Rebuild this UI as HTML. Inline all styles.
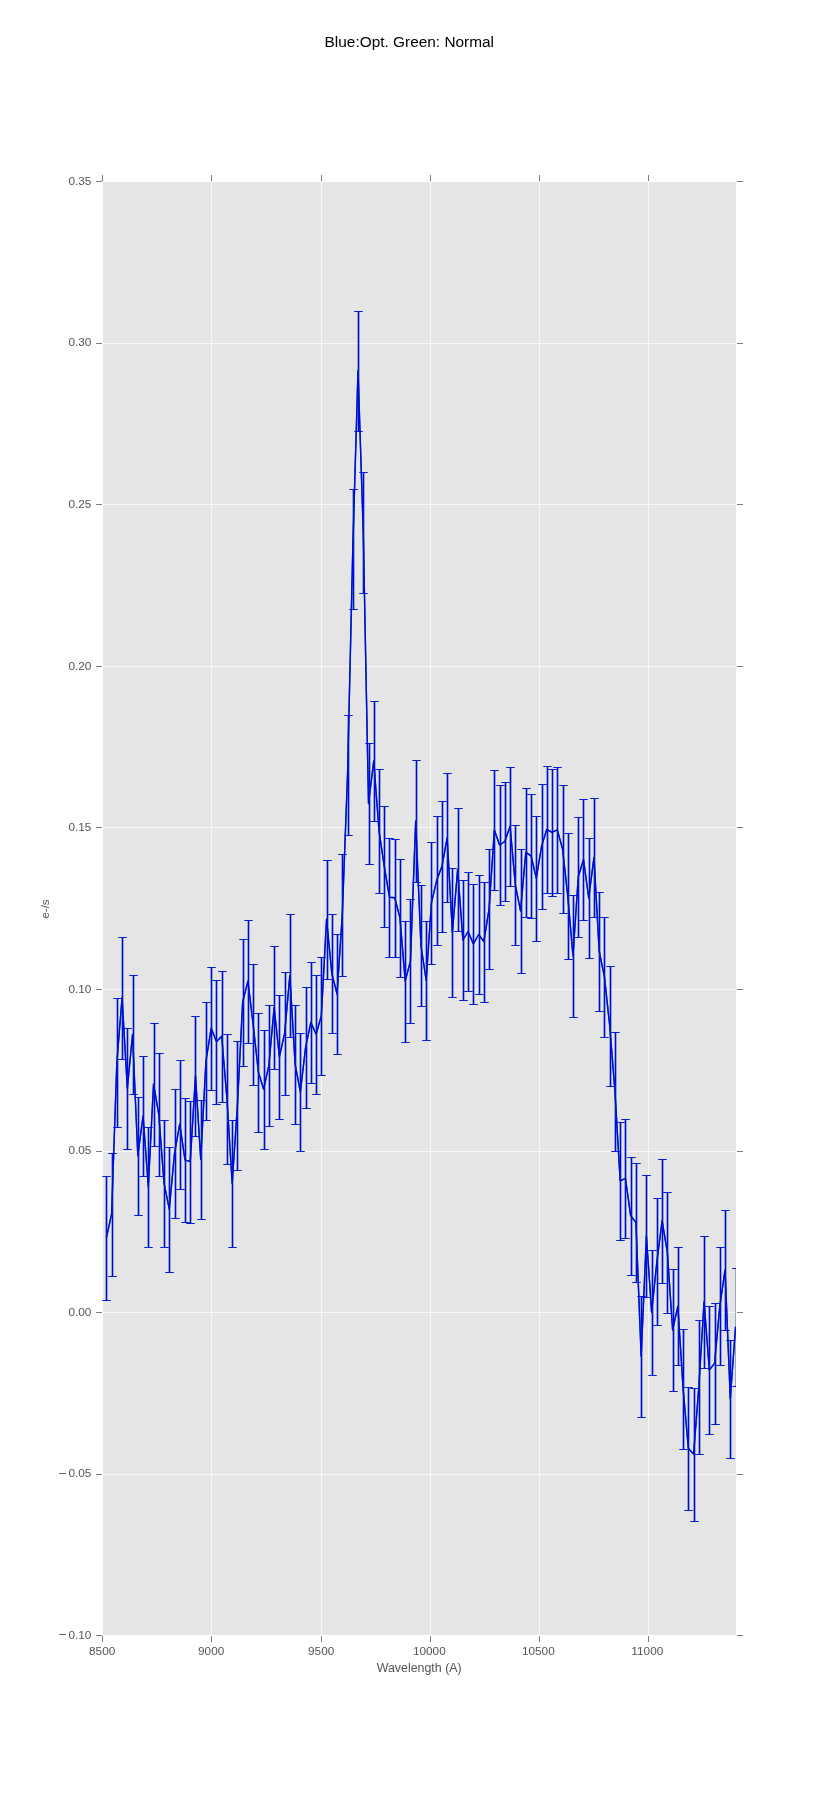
<!DOCTYPE html>
<html><head><meta charset="utf-8"><title>Blue:Opt. Green: Normal</title>
<style>html,body{margin:0;padding:0;background:#fff;}body{width:817px;height:1817px;overflow:hidden;font-family:"Liberation Sans",sans-serif;}svg{display:block;will-change:transform}text{font-family:"Liberation Sans",sans-serif;}</style></head><body>
<svg width="817" height="1817" viewBox="0 0 817 1817">
<rect x="0" y="0" width="817" height="1817" fill="#ffffff"/>
<rect x="103" y="182" width="633" height="1453" fill="#e5e5e5"/>
<path d="M211.5 182V1635M321.5 182V1635M430.5 182V1635M539.5 182V1635M648.5 182V1635M103 1474.5H736M103 1312.5H736M103 1151.5H736M103 989.5H736M103 827.5H736M103 666.5H736M103 504.5H736M103 343.5H736" stroke="#f8f8f8" stroke-width="1" fill="none" shape-rendering="crispEdges"/>
<path d="M102.5 1636V1642M102.5 175V181M211.5 1636V1642M211.5 175V181M321.5 1636V1642M321.5 175V181M430.5 1636V1642M430.5 175V181M539.5 1636V1642M539.5 175V181M648.5 1636V1642M648.5 175V181M96 1635.5H102M737 1635.5H743M96 1474.5H102M737 1474.5H743M96 1312.5H102M737 1312.5H743M96 1151.5H102M737 1151.5H743M96 989.5H102M737 989.5H743M96 827.5H102M737 827.5H743M96 666.5H102M737 666.5H743M96 504.5H102M737 504.5H743M96 343.5H102M737 343.5H743M96 181.5H102M737 181.5H743" stroke="#7c7c7c" stroke-width="1" fill="none" shape-rendering="crispEdges"/>
<clipPath id="c"><rect x="102.14" y="181.25" width="633.86" height="1453.95"/></clipPath>
<g clip-path="url(#c)" fill="none" stroke-width="1.39">
<path d="M106.5 1176.5V1300.5M112.5 1153.5V1276.5M117.5 998.5V1127.5M122.5 937.5V1059.5M127.5 1028.5V1149.5M133.5 975.5V1094.5M138.5 1097.5V1215.5M143.5 1056.5V1176.5M148.5 1127.5V1247.5M154.5 1023.5V1146.5M159.5 1053.5V1176.5M164.5 1120.5V1247.5M169.5 1147.5V1272.5M175.5 1089.5V1218.5M180.5 1060.5V1189.5M185.5 1098.5V1222.5M190.5 1101.5V1223.5M195.5 1016.5V1136.5M201.5 1100.5V1219.5M206.5 1002.5V1120.5M211.5 967.5V1090.5M216.5 980.5V1104.5M222.5 971.5V1102.5M227.5 1034.5V1164.5M232.5 1120.5V1247.5M237.5 1041.5V1170.5M243.5 939.5V1066.5M248.5 920.5V1043.5M253.5 964.5V1085.5M258.5 1013.5V1132.5M264.5 1030.5V1149.5M269.5 1005.5V1126.5M274.5 946.5V1069.5M279.5 995.5V1119.5M285.5 972.5V1095.5M290.5 914.5V1037.5M295.5 1005.5V1124.5M300.5 1033.5V1151.5M306.5 987.5V1108.5M311.5 962.5V1083.5M316.5 975.5V1094.5M321.5 957.5V1075.5M327.5 860.5V979.5M332.5 914.5V1033.5M337.5 934.5V1054.5M342.5 854.5V976.5M348.5 715.5V835.5M353.5 489.5V609.5M358.5 311.5V431.5M363.5 472.5V593.5M369.5 743.5V864.5M374.5 701.5V821.5M379.5 769.5V893.5M384.5 806.5V927.5M389.5 838.5V957.5M395.5 839.5V957.5M400.5 859.5V977.5M405.5 921.5V1042.5M410.5 899.5V1023.5M416.5 760.5V882.5M421.5 885.5V1006.5M426.5 921.5V1040.5M431.5 842.5V964.5M437.5 816.5V945.5M442.5 801.5V932.5M447.5 773.5V902.5M452.5 868.5V997.5M458.5 808.5V931.5M463.5 880.5V1000.5M468.5 872.5V991.5M473.5 884.5V1004.5M479.5 875.5V994.5M484.5 882.5V1002.5M489.5 849.5V969.5M494.5 770.5V890.5M500.5 785.5V905.5M505.5 782.5V901.5M510.5 767.5V886.5M515.5 825.5V945.5M521.5 849.5V973.5M526.5 788.5V917.5M531.5 794.5V918.5M536.5 816.5V941.5M542.5 784.5V909.5M547.5 766.5V893.5M552.5 769.5V896.5M557.5 767.5V893.5M563.5 785.5V913.5M568.5 833.5V959.5M573.5 895.5V1017.5M578.5 817.5V937.5M583.5 799.5V920.5M589.5 838.5V958.5M594.5 798.5V917.5M599.5 892.5V1011.5M604.5 917.5V1037.5M610.5 966.5V1086.5M615.5 1032.5V1151.5M620.5 1122.5V1240.5M625.5 1119.5V1238.5M631.5 1157.5V1275.5M636.5 1163.5V1282.5M641.5 1296.5V1417.5M646.5 1175.5V1297.5M652.5 1250.5V1375.5M657.5 1198.5V1325.5M662.5 1159.5V1283.5M667.5 1192.5V1313.5M673.5 1269.5V1391.5M678.5 1247.5V1365.5M683.5 1329.5V1449.5M688.5 1387.5V1510.5M694.5 1388.5V1521.5M699.5 1320.5V1454.5M704.5 1236.5V1368.5M709.5 1306.5V1434.5M715.5 1303.5V1424.5M720.5 1247.5V1365.5M725.5 1210.5V1330.5M730.5 1340.5V1458.5M736.5 1268.5V1386.5" stroke="#008000"/>
<path d="M106.5 1176.5V1300.5M112.5 1153.5V1276.5M117.5 998.5V1127.5M122.5 937.5V1059.5M127.5 1028.5V1149.5M133.5 975.5V1094.5M138.5 1097.5V1215.5M143.5 1056.5V1176.5M148.5 1127.5V1247.5M154.5 1023.5V1146.5M159.5 1053.5V1176.5M164.5 1120.5V1247.5M169.5 1147.5V1272.5M175.5 1089.5V1218.5M180.5 1060.5V1189.5M185.5 1098.5V1222.5M190.5 1101.5V1223.5M195.5 1016.5V1136.5M201.5 1100.5V1219.5M206.5 1002.5V1120.5M211.5 967.5V1090.5M216.5 980.5V1104.5M222.5 971.5V1102.5M227.5 1034.5V1164.5M232.5 1120.5V1247.5M237.5 1041.5V1170.5M243.5 939.5V1066.5M248.5 920.5V1043.5M253.5 964.5V1085.5M258.5 1013.5V1132.5M264.5 1030.5V1149.5M269.5 1005.5V1126.5M274.5 946.5V1069.5M279.5 995.5V1119.5M285.5 972.5V1095.5M290.5 914.5V1037.5M295.5 1005.5V1124.5M300.5 1033.5V1151.5M306.5 987.5V1108.5M311.5 962.5V1083.5M316.5 975.5V1094.5M321.5 957.5V1075.5M327.5 860.5V979.5M332.5 914.5V1033.5M337.5 934.5V1054.5M342.5 854.5V976.5M348.5 715.5V835.5M353.5 489.5V609.5M358.5 311.5V431.5M363.5 472.5V593.5M369.5 743.5V864.5M374.5 701.5V821.5M379.5 769.5V893.5M384.5 806.5V927.5M389.5 838.5V957.5M395.5 839.5V957.5M400.5 859.5V977.5M405.5 921.5V1042.5M410.5 899.5V1023.5M416.5 760.5V882.5M421.5 885.5V1006.5M426.5 921.5V1040.5M431.5 842.5V964.5M437.5 816.5V945.5M442.5 801.5V932.5M447.5 773.5V902.5M452.5 868.5V997.5M458.5 808.5V931.5M463.5 880.5V1000.5M468.5 872.5V991.5M473.5 884.5V1004.5M479.5 875.5V994.5M484.5 882.5V1002.5M489.5 849.5V969.5M494.5 770.5V890.5M500.5 785.5V905.5M505.5 782.5V901.5M510.5 767.5V886.5M515.5 825.5V945.5M521.5 849.5V973.5M526.5 788.5V917.5M531.5 794.5V918.5M536.5 816.5V941.5M542.5 784.5V909.5M547.5 766.5V893.5M552.5 769.5V896.5M557.5 767.5V893.5M563.5 785.5V913.5M568.5 833.5V959.5M573.5 895.5V1017.5M578.5 817.5V937.5M583.5 799.5V920.5M589.5 838.5V958.5M594.5 798.5V917.5M599.5 892.5V1011.5M604.5 917.5V1037.5M610.5 966.5V1086.5M615.5 1032.5V1151.5M620.5 1122.5V1240.5M625.5 1119.5V1238.5M631.5 1157.5V1275.5M636.5 1163.5V1282.5M641.5 1296.5V1417.5M646.5 1175.5V1297.5M652.5 1250.5V1375.5M657.5 1198.5V1325.5M662.5 1159.5V1283.5M667.5 1192.5V1313.5M673.5 1269.5V1391.5M678.5 1247.5V1365.5M683.5 1329.5V1449.5M688.5 1387.5V1510.5M694.5 1388.5V1521.5M699.5 1320.5V1454.5M704.5 1236.5V1368.5M709.5 1306.5V1434.5M715.5 1303.5V1424.5M720.5 1247.5V1365.5M725.5 1210.5V1330.5M730.5 1340.5V1458.5M736.5 1268.5V1386.5" stroke="#0000ff"/>
<path d="M106.35 1237.8L111.59 1214.2L116.84 1062.5L122.08 997.6L127.32 1088.3L132.57 1034.4L137.81 1155.8L143.05 1115.9L148.30 1186.8L153.54 1084.1L158.78 1114.4L164.03 1183.2L169.27 1209.2L174.51 1153.3L179.75 1124.2L185.00 1159.8L190.24 1161.6L195.48 1075.7L200.73 1159.4L205.97 1060.8L211.21 1028.2L216.46 1041.8L221.70 1036.3L226.94 1098.8L232.19 1183.2L237.43 1105.1L242.67 1002.2L247.92 981.1L253.16 1024.6L258.40 1072.2L263.65 1089.2L268.89 1065.4L274.13 1007.2L279.38 1056.9L284.62 1033.4L289.86 975.4L295.11 1064.2L300.35 1091.8L305.59 1047.3L310.83 1022.4L316.08 1034.2L321.32 1015.9L326.56 919.3L331.81 973.3L337.05 994.0L342.29 914.8L347.54 774.8L352.78 548.8L358.02 370.6L363.27 532.4L368.51 803.5L373.75 760.9L379.00 830.8L384.24 866.2L389.48 897.3L394.73 897.7L399.97 917.9L405.21 981.2L410.46 960.9L415.70 820.9L420.94 945.5L426.19 980.4L431.43 902.8L436.67 880.3L441.91 866.4L447.16 837.8L452.40 932.5L457.64 869.4L462.89 940.0L468.13 931.5L473.37 944.0L478.62 934.5L483.86 941.7L489.10 908.7L494.35 829.9L499.59 845.0L504.83 841.5L510.08 826.2L515.32 884.8L520.56 910.8L525.81 852.3L531.05 855.8L536.29 878.2L541.54 846.4L546.78 829.3L552.02 832.3L557.27 829.9L562.51 848.8L567.75 895.9L572.99 955.9L578.24 877.0L583.48 859.5L588.72 898.0L593.97 857.4L599.21 951.4L604.45 976.9L609.70 1025.8L614.94 1091.3L620.18 1180.8L625.43 1178.3L630.67 1215.8L635.91 1222.4L641.16 1356.3L646.40 1235.8L651.64 1312.3L656.89 1261.5L662.13 1220.8L667.37 1252.5L672.62 1330.0L677.86 1306.2L683.10 1388.7L688.35 1448.3L693.59 1454.1L698.83 1386.8L704.07 1301.9L709.32 1370.0L714.56 1363.4L719.80 1306.2L725.05 1269.9L730.29 1398.8L735.53 1326.8" stroke="#008000" stroke-linejoin="round"/>
<path d="M102.33 1176.5h8.34M102.33 1300.5h8.34M108.33 1153.5h8.34M108.33 1276.5h8.34M113.33 998.5h8.34M113.33 1127.5h8.34M118.33 937.5h8.34M118.33 1059.5h8.34M123.33 1028.5h8.34M123.33 1149.5h8.34M129.33 975.5h8.34M129.33 1094.5h8.34M134.33 1097.5h8.34M134.33 1215.5h8.34M139.33 1056.5h8.34M139.33 1176.5h8.34M144.33 1127.5h8.34M144.33 1247.5h8.34M150.33 1023.5h8.34M150.33 1146.5h8.34M155.33 1053.5h8.34M155.33 1176.5h8.34M160.33 1120.5h8.34M160.33 1247.5h8.34M165.33 1147.5h8.34M165.33 1272.5h8.34M171.33 1089.5h8.34M171.33 1218.5h8.34M176.33 1060.5h8.34M176.33 1189.5h8.34M181.33 1098.5h8.34M181.33 1222.5h8.34M186.33 1101.5h8.34M186.33 1223.5h8.34M191.33 1016.5h8.34M191.33 1136.5h8.34M197.33 1100.5h8.34M197.33 1219.5h8.34M202.33 1002.5h8.34M202.33 1120.5h8.34M207.33 967.5h8.34M207.33 1090.5h8.34M212.33 980.5h8.34M212.33 1104.5h8.34M218.33 971.5h8.34M218.33 1102.5h8.34M223.33 1034.5h8.34M223.33 1164.5h8.34M228.33 1120.5h8.34M228.33 1247.5h8.34M233.33 1041.5h8.34M233.33 1170.5h8.34M239.33 939.5h8.34M239.33 1066.5h8.34M244.33 920.5h8.34M244.33 1043.5h8.34M249.33 964.5h8.34M249.33 1085.5h8.34M254.33 1013.5h8.34M254.33 1132.5h8.34M260.33 1030.5h8.34M260.33 1149.5h8.34M265.33 1005.5h8.34M265.33 1126.5h8.34M270.33 946.5h8.34M270.33 1069.5h8.34M275.33 995.5h8.34M275.33 1119.5h8.34M281.33 972.5h8.34M281.33 1095.5h8.34M286.33 914.5h8.34M286.33 1037.5h8.34M291.33 1005.5h8.34M291.33 1124.5h8.34M296.33 1033.5h8.34M296.33 1151.5h8.34M302.33 987.5h8.34M302.33 1108.5h8.34M307.33 962.5h8.34M307.33 1083.5h8.34M312.33 975.5h8.34M312.33 1094.5h8.34M317.33 957.5h8.34M317.33 1075.5h8.34M323.33 860.5h8.34M323.33 979.5h8.34M328.33 914.5h8.34M328.33 1033.5h8.34M333.33 934.5h8.34M333.33 1054.5h8.34M338.33 854.5h8.34M338.33 976.5h8.34M344.33 715.5h8.34M344.33 835.5h8.34M349.33 489.5h8.34M349.33 609.5h8.34M354.33 311.5h8.34M354.33 431.5h8.34M359.33 472.5h8.34M359.33 593.5h8.34M365.33 743.5h8.34M365.33 864.5h8.34M370.33 701.5h8.34M370.33 821.5h8.34M375.33 769.5h8.34M375.33 893.5h8.34M380.33 806.5h8.34M380.33 927.5h8.34M385.33 838.5h8.34M385.33 957.5h8.34M391.33 839.5h8.34M391.33 957.5h8.34M396.33 859.5h8.34M396.33 977.5h8.34M401.33 921.5h8.34M401.33 1042.5h8.34M406.33 899.5h8.34M406.33 1023.5h8.34M412.33 760.5h8.34M412.33 882.5h8.34M417.33 885.5h8.34M417.33 1006.5h8.34M422.33 921.5h8.34M422.33 1040.5h8.34M427.33 842.5h8.34M427.33 964.5h8.34M433.33 816.5h8.34M433.33 945.5h8.34M438.33 801.5h8.34M438.33 932.5h8.34M443.33 773.5h8.34M443.33 902.5h8.34M448.33 868.5h8.34M448.33 997.5h8.34M454.33 808.5h8.34M454.33 931.5h8.34M459.33 880.5h8.34M459.33 1000.5h8.34M464.33 872.5h8.34M464.33 991.5h8.34M469.33 884.5h8.34M469.33 1004.5h8.34M475.33 875.5h8.34M475.33 994.5h8.34M480.33 882.5h8.34M480.33 1002.5h8.34M485.33 849.5h8.34M485.33 969.5h8.34M490.33 770.5h8.34M490.33 890.5h8.34M496.33 785.5h8.34M496.33 905.5h8.34M501.33 782.5h8.34M501.33 901.5h8.34M506.33 767.5h8.34M506.33 886.5h8.34M511.33 825.5h8.34M511.33 945.5h8.34M517.33 849.5h8.34M517.33 973.5h8.34M522.33 788.5h8.34M522.33 917.5h8.34M527.33 794.5h8.34M527.33 918.5h8.34M532.33 816.5h8.34M532.33 941.5h8.34M538.33 784.5h8.34M538.33 909.5h8.34M543.33 766.5h8.34M543.33 893.5h8.34M548.33 769.5h8.34M548.33 896.5h8.34M553.33 767.5h8.34M553.33 893.5h8.34M559.33 785.5h8.34M559.33 913.5h8.34M564.33 833.5h8.34M564.33 959.5h8.34M569.33 895.5h8.34M569.33 1017.5h8.34M574.33 817.5h8.34M574.33 937.5h8.34M579.33 799.5h8.34M579.33 920.5h8.34M585.33 838.5h8.34M585.33 958.5h8.34M590.33 798.5h8.34M590.33 917.5h8.34M595.33 892.5h8.34M595.33 1011.5h8.34M600.33 917.5h8.34M600.33 1037.5h8.34M606.33 966.5h8.34M606.33 1086.5h8.34M611.33 1032.5h8.34M611.33 1151.5h8.34M616.33 1122.5h8.34M616.33 1240.5h8.34M621.33 1119.5h8.34M621.33 1238.5h8.34M627.33 1157.5h8.34M627.33 1275.5h8.34M632.33 1163.5h8.34M632.33 1282.5h8.34M637.33 1296.5h8.34M637.33 1417.5h8.34M642.33 1175.5h8.34M642.33 1297.5h8.34M648.33 1250.5h8.34M648.33 1375.5h8.34M653.33 1198.5h8.34M653.33 1325.5h8.34M658.33 1159.5h8.34M658.33 1283.5h8.34M663.33 1192.5h8.34M663.33 1313.5h8.34M669.33 1269.5h8.34M669.33 1391.5h8.34M674.33 1247.5h8.34M674.33 1365.5h8.34M679.33 1329.5h8.34M679.33 1449.5h8.34M684.33 1387.5h8.34M684.33 1510.5h8.34M690.33 1388.5h8.34M690.33 1521.5h8.34M695.33 1320.5h8.34M695.33 1454.5h8.34M700.33 1236.5h8.34M700.33 1368.5h8.34M705.33 1306.5h8.34M705.33 1434.5h8.34M711.33 1303.5h8.34M711.33 1424.5h8.34M716.33 1247.5h8.34M716.33 1365.5h8.34M721.33 1210.5h8.34M721.33 1330.5h8.34M726.33 1340.5h8.34M726.33 1458.5h8.34M732.33 1268.5h8.34M732.33 1386.5h8.34" stroke="#008000" stroke-width="0.8"/>
<path d="M106.35 1237.8L111.59 1214.2L116.84 1062.5L122.08 997.6L127.32 1088.3L132.57 1034.4L137.81 1155.8L143.05 1115.9L148.30 1186.8L153.54 1084.1L158.78 1114.4L164.03 1183.2L169.27 1209.2L174.51 1153.3L179.75 1124.2L185.00 1159.8L190.24 1161.6L195.48 1075.7L200.73 1159.4L205.97 1060.8L211.21 1028.2L216.46 1041.8L221.70 1036.3L226.94 1098.8L232.19 1183.2L237.43 1105.1L242.67 1002.2L247.92 981.1L253.16 1024.6L258.40 1072.2L263.65 1089.2L268.89 1065.4L274.13 1007.2L279.38 1056.9L284.62 1033.4L289.86 975.4L295.11 1064.2L300.35 1091.8L305.59 1047.3L310.83 1022.4L316.08 1034.2L321.32 1015.9L326.56 919.3L331.81 973.3L337.05 994.0L342.29 914.8L347.54 774.8L352.78 548.8L358.02 370.6L363.27 532.4L368.51 803.5L373.75 760.9L379.00 830.8L384.24 866.2L389.48 897.3L394.73 897.7L399.97 917.9L405.21 981.2L410.46 960.9L415.70 820.9L420.94 945.5L426.19 980.4L431.43 902.8L436.67 880.3L441.91 866.4L447.16 837.8L452.40 932.5L457.64 869.4L462.89 940.0L468.13 931.5L473.37 944.0L478.62 934.5L483.86 941.7L489.10 908.7L494.35 829.9L499.59 845.0L504.83 841.5L510.08 826.2L515.32 884.8L520.56 910.8L525.81 852.3L531.05 855.8L536.29 878.2L541.54 846.4L546.78 829.3L552.02 832.3L557.27 829.9L562.51 848.8L567.75 895.9L572.99 955.9L578.24 877.0L583.48 859.5L588.72 898.0L593.97 857.4L599.21 951.4L604.45 976.9L609.70 1025.8L614.94 1091.3L620.18 1180.8L625.43 1178.3L630.67 1215.8L635.91 1222.4L641.16 1356.3L646.40 1235.8L651.64 1312.3L656.89 1261.5L662.13 1220.8L667.37 1252.5L672.62 1330.0L677.86 1306.2L683.10 1388.7L688.35 1448.3L693.59 1454.1L698.83 1386.8L704.07 1301.9L709.32 1370.0L714.56 1363.4L719.80 1306.2L725.05 1269.9L730.29 1398.8L735.53 1326.8" stroke="#0000ff" stroke-linejoin="round"/>
<path d="M102.33 1176.5h8.34M102.33 1300.5h8.34M108.33 1153.5h8.34M108.33 1276.5h8.34M113.33 998.5h8.34M113.33 1127.5h8.34M118.33 937.5h8.34M118.33 1059.5h8.34M123.33 1028.5h8.34M123.33 1149.5h8.34M129.33 975.5h8.34M129.33 1094.5h8.34M134.33 1097.5h8.34M134.33 1215.5h8.34M139.33 1056.5h8.34M139.33 1176.5h8.34M144.33 1127.5h8.34M144.33 1247.5h8.34M150.33 1023.5h8.34M150.33 1146.5h8.34M155.33 1053.5h8.34M155.33 1176.5h8.34M160.33 1120.5h8.34M160.33 1247.5h8.34M165.33 1147.5h8.34M165.33 1272.5h8.34M171.33 1089.5h8.34M171.33 1218.5h8.34M176.33 1060.5h8.34M176.33 1189.5h8.34M181.33 1098.5h8.34M181.33 1222.5h8.34M186.33 1101.5h8.34M186.33 1223.5h8.34M191.33 1016.5h8.34M191.33 1136.5h8.34M197.33 1100.5h8.34M197.33 1219.5h8.34M202.33 1002.5h8.34M202.33 1120.5h8.34M207.33 967.5h8.34M207.33 1090.5h8.34M212.33 980.5h8.34M212.33 1104.5h8.34M218.33 971.5h8.34M218.33 1102.5h8.34M223.33 1034.5h8.34M223.33 1164.5h8.34M228.33 1120.5h8.34M228.33 1247.5h8.34M233.33 1041.5h8.34M233.33 1170.5h8.34M239.33 939.5h8.34M239.33 1066.5h8.34M244.33 920.5h8.34M244.33 1043.5h8.34M249.33 964.5h8.34M249.33 1085.5h8.34M254.33 1013.5h8.34M254.33 1132.5h8.34M260.33 1030.5h8.34M260.33 1149.5h8.34M265.33 1005.5h8.34M265.33 1126.5h8.34M270.33 946.5h8.34M270.33 1069.5h8.34M275.33 995.5h8.34M275.33 1119.5h8.34M281.33 972.5h8.34M281.33 1095.5h8.34M286.33 914.5h8.34M286.33 1037.5h8.34M291.33 1005.5h8.34M291.33 1124.5h8.34M296.33 1033.5h8.34M296.33 1151.5h8.34M302.33 987.5h8.34M302.33 1108.5h8.34M307.33 962.5h8.34M307.33 1083.5h8.34M312.33 975.5h8.34M312.33 1094.5h8.34M317.33 957.5h8.34M317.33 1075.5h8.34M323.33 860.5h8.34M323.33 979.5h8.34M328.33 914.5h8.34M328.33 1033.5h8.34M333.33 934.5h8.34M333.33 1054.5h8.34M338.33 854.5h8.34M338.33 976.5h8.34M344.33 715.5h8.34M344.33 835.5h8.34M349.33 489.5h8.34M349.33 609.5h8.34M354.33 311.5h8.34M354.33 431.5h8.34M359.33 472.5h8.34M359.33 593.5h8.34M365.33 743.5h8.34M365.33 864.5h8.34M370.33 701.5h8.34M370.33 821.5h8.34M375.33 769.5h8.34M375.33 893.5h8.34M380.33 806.5h8.34M380.33 927.5h8.34M385.33 838.5h8.34M385.33 957.5h8.34M391.33 839.5h8.34M391.33 957.5h8.34M396.33 859.5h8.34M396.33 977.5h8.34M401.33 921.5h8.34M401.33 1042.5h8.34M406.33 899.5h8.34M406.33 1023.5h8.34M412.33 760.5h8.34M412.33 882.5h8.34M417.33 885.5h8.34M417.33 1006.5h8.34M422.33 921.5h8.34M422.33 1040.5h8.34M427.33 842.5h8.34M427.33 964.5h8.34M433.33 816.5h8.34M433.33 945.5h8.34M438.33 801.5h8.34M438.33 932.5h8.34M443.33 773.5h8.34M443.33 902.5h8.34M448.33 868.5h8.34M448.33 997.5h8.34M454.33 808.5h8.34M454.33 931.5h8.34M459.33 880.5h8.34M459.33 1000.5h8.34M464.33 872.5h8.34M464.33 991.5h8.34M469.33 884.5h8.34M469.33 1004.5h8.34M475.33 875.5h8.34M475.33 994.5h8.34M480.33 882.5h8.34M480.33 1002.5h8.34M485.33 849.5h8.34M485.33 969.5h8.34M490.33 770.5h8.34M490.33 890.5h8.34M496.33 785.5h8.34M496.33 905.5h8.34M501.33 782.5h8.34M501.33 901.5h8.34M506.33 767.5h8.34M506.33 886.5h8.34M511.33 825.5h8.34M511.33 945.5h8.34M517.33 849.5h8.34M517.33 973.5h8.34M522.33 788.5h8.34M522.33 917.5h8.34M527.33 794.5h8.34M527.33 918.5h8.34M532.33 816.5h8.34M532.33 941.5h8.34M538.33 784.5h8.34M538.33 909.5h8.34M543.33 766.5h8.34M543.33 893.5h8.34M548.33 769.5h8.34M548.33 896.5h8.34M553.33 767.5h8.34M553.33 893.5h8.34M559.33 785.5h8.34M559.33 913.5h8.34M564.33 833.5h8.34M564.33 959.5h8.34M569.33 895.5h8.34M569.33 1017.5h8.34M574.33 817.5h8.34M574.33 937.5h8.34M579.33 799.5h8.34M579.33 920.5h8.34M585.33 838.5h8.34M585.33 958.5h8.34M590.33 798.5h8.34M590.33 917.5h8.34M595.33 892.5h8.34M595.33 1011.5h8.34M600.33 917.5h8.34M600.33 1037.5h8.34M606.33 966.5h8.34M606.33 1086.5h8.34M611.33 1032.5h8.34M611.33 1151.5h8.34M616.33 1122.5h8.34M616.33 1240.5h8.34M621.33 1119.5h8.34M621.33 1238.5h8.34M627.33 1157.5h8.34M627.33 1275.5h8.34M632.33 1163.5h8.34M632.33 1282.5h8.34M637.33 1296.5h8.34M637.33 1417.5h8.34M642.33 1175.5h8.34M642.33 1297.5h8.34M648.33 1250.5h8.34M648.33 1375.5h8.34M653.33 1198.5h8.34M653.33 1325.5h8.34M658.33 1159.5h8.34M658.33 1283.5h8.34M663.33 1192.5h8.34M663.33 1313.5h8.34M669.33 1269.5h8.34M669.33 1391.5h8.34M674.33 1247.5h8.34M674.33 1365.5h8.34M679.33 1329.5h8.34M679.33 1449.5h8.34M684.33 1387.5h8.34M684.33 1510.5h8.34M690.33 1388.5h8.34M690.33 1521.5h8.34M695.33 1320.5h8.34M695.33 1454.5h8.34M700.33 1236.5h8.34M700.33 1368.5h8.34M705.33 1306.5h8.34M705.33 1434.5h8.34M711.33 1303.5h8.34M711.33 1424.5h8.34M716.33 1247.5h8.34M716.33 1365.5h8.34M721.33 1210.5h8.34M721.33 1330.5h8.34M726.33 1340.5h8.34M726.33 1458.5h8.34M732.33 1268.5h8.34M732.33 1386.5h8.34" stroke="#0000ff" stroke-width="0.8"/>
</g>
<g fill="#555555" font-size="11.8px">
<text x="102.2" y="1655.3" text-anchor="middle">8500</text>
<text x="211.2" y="1655.3" text-anchor="middle">9000</text>
<text x="321.2" y="1655.3" text-anchor="middle">9500</text>
<text x="429.3" y="1655.3" text-anchor="middle">10000</text>
<text x="538.3" y="1655.3" text-anchor="middle">10500</text>
<text x="647.3" y="1655.3" text-anchor="middle">11000</text>
<text x="91.4" y="1638.8" text-anchor="end">0.10</text>
<rect x="59.2" y="1634.0" width="6.8" height="1" fill="#606060"/>
<text x="91.4" y="1477.2" text-anchor="end">0.05</text>
<rect x="59.2" y="1473.0" width="6.8" height="1" fill="#606060"/>
<text x="91.4" y="1315.7" text-anchor="end">0.00</text>
<text x="91.4" y="1154.1" text-anchor="end">0.05</text>
<text x="91.4" y="992.6" text-anchor="end">0.10</text>
<text x="91.4" y="831.0" text-anchor="end">0.15</text>
<text x="91.4" y="669.5" text-anchor="end">0.20</text>
<text x="91.4" y="507.9" text-anchor="end">0.25</text>
<text x="91.4" y="346.4" text-anchor="end">0.30</text>
<text x="91.4" y="184.8" text-anchor="end">0.35</text>
</g>
<text x="419.2" y="1671.7" text-anchor="middle" font-size="12.4px" fill="#555555">Wavelength (A)</text>
<text transform="translate(49.2 909) rotate(-90)" text-anchor="middle" font-size="11.4px" fill="#555555">e-/s</text>
<text x="409.3" y="46.9" text-anchor="middle" font-size="15.4px" fill="#000000">Blue:Opt. Green: Normal</text>
</svg></body></html>
